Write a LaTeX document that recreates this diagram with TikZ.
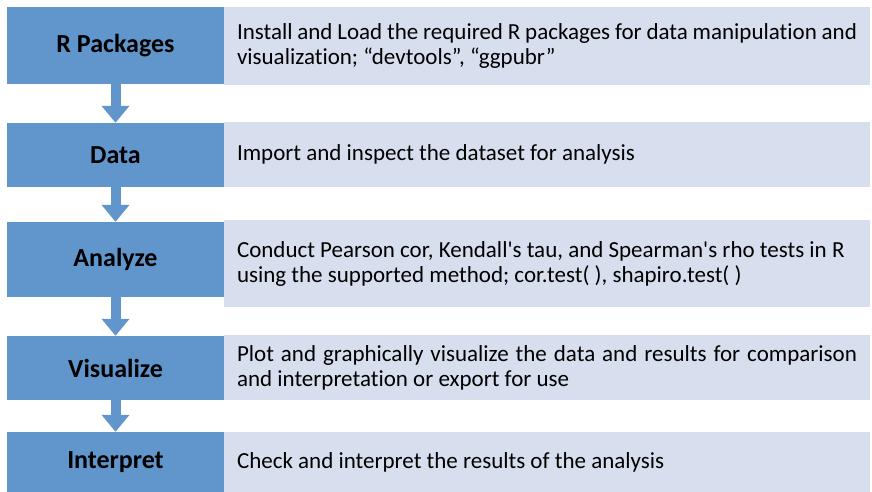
\documentclass[tikz,border=0pt]{standalone}
\usepackage{fontspec}
\setmainfont{Carlito}[Ligatures={NoCommon}]
\usetikzlibrary{arrows.meta,positioning}
\definecolor{stageblue}{HTML}{6096CC}
\definecolor{detailblue}{HTML}{D7DFEE}
\tikzset{
  stage/.style={rectangle,fill=stageblue,minimum width=217pt,inner sep=0pt,
    font=\fontsize{26}{30}\selectfont\bfseries,text=black},
  detail/.style={rectangle,fill=detailblue,text width=620pt,inner xsep=13pt,
    inner ysep=0pt,align=justify,font=\fontsize{23}{25}\selectfont,text=black},
  stage flow/.style={draw=stageblue,line width=10pt,
    -{Triangle[width=27pt,length=17pt]}}
}

\begin{document}
\begin{tikzpicture}[x=1pt,y=-1pt]
  \useasboundingbox (0,0) rectangle (872,492);

  % steps on the left
  \node[stage,minimum height=77pt] (packages) at (115.5,45.5) {R Packages};
  \node[stage,minimum height=64pt] (data) at (115.5,155) {Data};
  \node[stage,minimum height=75pt] (analyze) at (115.5,259.5) {Analyze};
  \node[stage,minimum height=64pt] (visualize) at (115.5,368) {Visualize};
  \node[stage,minimum height=60pt] (interpret) at (115.5,462) {Interpret};

  % descriptions on the right
  \node[detail,minimum height=78pt] (packagesinfo) at (547,46)
    {Install and Load the required R packages for data manipulation and\linebreak
     visualization; “devtools”, “ggpubr”};
  \node[detail,minimum height=65pt] (datainfo) at (547,154.5)
    {Import and inspect the dataset for analysis};
  \node[detail,minimum height=87pt] (analyzeinfo) at (547,263.5)
    {Conduct Pearson cor, Kendall\textquotesingle s tau, and Spearman\textquotesingle s rho tests in R\\
     using the supported method; cor.test( ), shapiro.test( )};
  \node[detail,minimum height=65pt] (visualizeinfo) at (547,367.5)
    {Plot and graphically visualize the data and results for comparison\linebreak
     and interpretation or export for use};
  \node[detail,minimum height=60pt] (interpretinfo) at (547,462)
    {Check and interpret the results of the analysis};

  \draw[stage flow] (packages) -- (data);
  \draw[stage flow] (data) -- (analyze);
  \draw[stage flow] (analyze) -- (visualize);
  \draw[stage flow] (visualize) -- (interpret);
\end{tikzpicture}
\end{document}
